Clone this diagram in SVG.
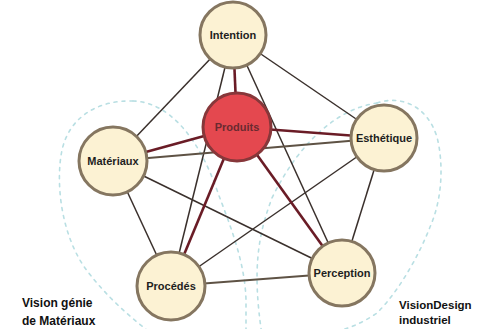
<svg xmlns="http://www.w3.org/2000/svg" width="484" height="329" viewBox="0 0 484 329">
<style>
.bg{fill:#ffffff}
.zone{fill:none;stroke:#b9dfe3;stroke-width:1.6;stroke-dasharray:3 5;stroke-linecap:round}
.e{stroke:#3a302c;stroke-width:1.5;fill:none}
.eb{stroke:#5e5244;stroke-width:2;fill:none}
.er{stroke:#6a1c26;stroke-width:2.6;fill:none}
.n circle{fill:#fcf2d3;stroke:#857660;stroke-width:3}
.n text{font-family:"Liberation Sans",Arial,sans-serif;font-weight:bold;font-size:11px;fill:#1e1e1e;text-anchor:middle}
#produits circle{fill:#e4484f;stroke:#87373a}
#produits text{fill:#6a2a30}
.lbl{font-family:"Liberation Sans",Arial,sans-serif;font-weight:bold;font-size:12px;fill:#111}
</style>
<rect class="bg" width="484" height="329"/>
<g id="zones">
<path class="zone" d="M133,101 C100,100 70,115 62,150 C55,185 62,235 85,268 C105,295 130,318 160,340"/>
<path class="zone" d="M133,101 C170,102 200,140 218,193 C230,225 245,262 246,300 L246,335"/>
<path class="zone" d="M377,103 C400,95 427,105 437,137 C444,165 442,200 430,227 C420,253 400,290 377,313 C360,325 340,332 320,335"/>
<path class="zone" d="M377,103 C340,108 300,140 272,198 C258,235 252,270 262,335"/>
</g>
<g id="connectors">
<line class="e" x1="233" y1="35" x2="113" y2="161"/>
<line class="e" x1="233" y1="35" x2="384" y2="138"/>
<line class="e" x1="233" y1="35" x2="171" y2="286"/>
<line class="e" x1="233" y1="35" x2="342" y2="273"/>
<line class="eb" x1="113" y1="161" x2="384" y2="138"/>
<line class="e" x1="113" y1="161" x2="171" y2="286"/>
<line class="e" x1="113" y1="161" x2="342" y2="273"/>
<line class="e" x1="384" y1="138" x2="171" y2="286"/>
<line class="e" x1="384" y1="138" x2="342" y2="273"/>
<line class="eb" x1="171" y1="286" x2="342" y2="273"/>
<line class="er" x1="237" y1="127" x2="233" y2="35"/>
<line class="er" x1="237" y1="127" x2="113" y2="161"/>
<line class="er" x1="237" y1="127" x2="384" y2="138"/>
<line class="er" x1="237" y1="127" x2="171" y2="286"/>
<line class="er" x1="237" y1="127" x2="342" y2="273"/>
</g>
<g id="intention" class="n"><circle cx="233" cy="35" r="33"/><text x="233" y="39">Intention</text></g>
<g id="produits" class="n"><circle cx="237" cy="127" r="34"/><text x="237" y="131">Produits</text></g>
<g id="materiaux" class="n"><circle cx="113" cy="161" r="34"/><text x="113" y="165">Matériaux</text></g>
<g id="esthetique" class="n"><circle cx="384" cy="138" r="33"/><text x="384" y="142">Esthétique</text></g>
<g id="procedes" class="n"><circle cx="171" cy="286" r="34"/><text x="171" y="290">Procédés</text></g>
<g id="perception" class="n"><circle cx="342" cy="273" r="33"/><text x="342" y="277">Perception</text></g>
<g id="labels">
<text class="lbl" x="22" y="307">Vision génie</text>
<text class="lbl" x="22" y="325">de Matériaux</text>
<text class="lbl" x="399" y="309" style="font-size:11.5px">VisionDesign</text>
<text class="lbl" x="399" y="324" style="font-size:11.5px">industriel</text>
</g>
</svg>
